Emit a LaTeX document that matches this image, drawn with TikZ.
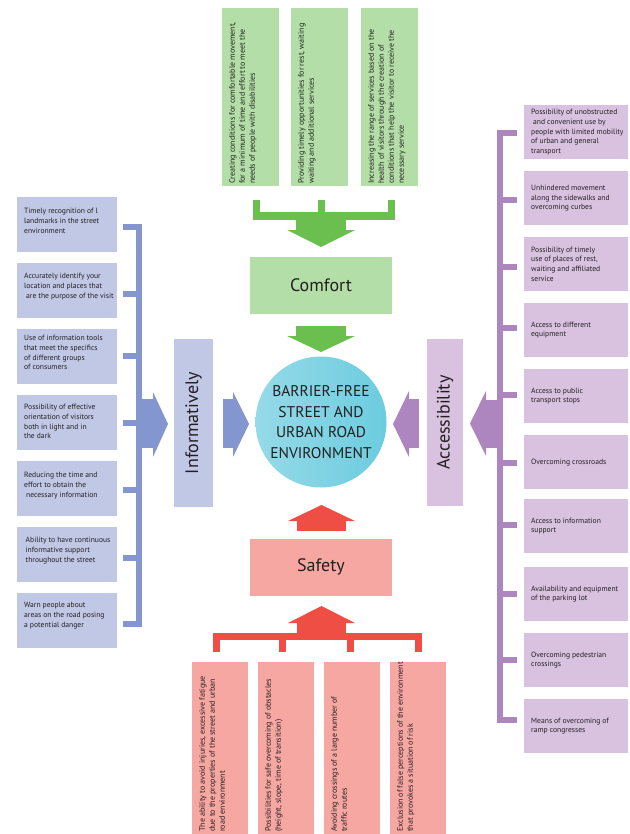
\documentclass[tikz,border=0pt]{standalone}
\usepackage{fontspec}
\setmainfont{PT Sans}
\definecolor{gbox}{HTML}{B4DEA8}
\definecolor{garr}{HTML}{6BBF4E}
\definecolor{bbox}{HTML}{C1C8E6}
\definecolor{barr}{HTML}{8496CF}
\definecolor{pbox}{HTML}{D8C2E0}
\definecolor{parr}{HTML}{AE86BF}
\definecolor{rbox}{HTML}{F6A7A2}
\definecolor{rarr}{HTML}{EF4E45}
\definecolor{txt}{HTML}{231F20}
\definecolor{circL}{HTML}{95DAE8}
\definecolor{circR}{HTML}{6CCCDF}
\newcommand{\smalltxt}{\fontsize{7.6}{9.7}\selectfont}
\newcommand{\verttxt}{\fontsize{8.0}{10}\selectfont}
\newcommand{\titletxt}{\fontsize{18}{22}\selectfont}
\begin{document}
\begin{tikzpicture}[x=1pt,y=-1pt,
  every node/.style={text=txt},
  lbox/.style={fill=bbox, anchor=north west, minimum width=100, minimum height=55, inner sep=0},
  rbox/.style={fill=pbox, anchor=north west, minimum width=104, minimum height=54, inner sep=0},
  stext/.style={anchor=west, align=left, inner sep=0, font=\smalltxt},
  tbox/.style={fill=gbox, anchor=north west, minimum width=57, minimum height=178, inner sep=0},
  bbx/.style={fill=rbox, anchor=north west, minimum width=56, minimum height=172, inner sep=0},
  vtext/.style={rotate=90, anchor=north west, align=left, inner sep=0, font=\verttxt},
  hbox/.style={minimum width=142, minimum height=57, inner sep=0, font=\titletxt},
  sidebox/.style={rotate=90, inner sep=0, font=\titletxt}
]
\fill[white] (0,0) rectangle (629,834);
\useasboundingbox (0,0) rectangle (629,834);

% ---------- top (comfort) boxes ----------
\node[tbox] (T1) at (222,8) {};
\node[tbox] (T2) at (291,8) {};
\node[tbox] (T3) at (361,8) {};
\node[vtext] (T1t) at (229,184) {Creating conditions for comfortable movement,\\for a minimum of time and effort to meet the\\needs of people with disabilities};
\node[vtext] (T2t) at (298,184) {Providing timely opportunities for rest, waiting\\waiting and additional services};
\node[vtext] (T3t) at (368,184) {Increasing the range of services based on the\\health of visitors through the creation of\\conditions that help the visitor to receive the\\necessary service};

% green bracket + arrow
\fill[garr] (252.5,200) rectangle (259.5,220);
\fill[garr] (317.5,200) rectangle (324.5,220);
\fill[garr] (388,200) rectangle (395,220);
\fill[garr] (252.5,212) rectangle (395,220);
\fill[garr] (296,219) rectangle (346,230.5);
\fill[garr] (287,230) -- (355,230) -- (321,247) -- cycle;

% comfort
\node[hbox, fill=gbox] (comfort) at (321,285) {Comfort};
\fill[garr] (296,326) rectangle (346,336.5);
\fill[garr] (287,336) -- (355,336) -- (321,352) -- cycle;

% center
\node[circle, minimum size=131, inner sep=0, left color=circL, right color=circR, align=center, font=\fontsize{15.5}{20.5}\selectfont] (core) at (321,422) {BARRIER-FREE\\STREET AND\\URBAN ROAD\\ENVIRONMENT};

% safety
\fill[rarr] (288,521) -- (355,521) -- (321.5,505) -- cycle;
\fill[rarr] (297,520.5) rectangle (346,531);
\node[hbox, fill=rbox] (safety) at (321,567) {Safety};

% red bracket + arrow
\fill[rarr] (288,623) -- (355,623) -- (321.5,606) -- cycle;
\fill[rarr] (297,622.5) rectangle (346,634);
\fill[rarr] (213,633) rectangle (422,640);
\fill[rarr] (213,633) rectangle (220,652);
\fill[rarr] (279,633) rectangle (286,652);
\fill[rarr] (347,633) rectangle (354,652);
\fill[rarr] (415,633) rectangle (422,652);

% bottom boxes
\node[bbx] (B1) at (192,662) {};
\node[bbx] (B2) at (258,662) {};
\node[bbx] (B3) at (324,662) {};
\node[bbx] (B4) at (390,662) {};
\node[vtext] (B1t) at (199,832) {The ability to avoid injuries, excessive fatigue\\due to the properties of the street and urban\\road environment};
\node[vtext] (B2t) at (265,832) {Possibilities for safe overcoming of obstacles\\(height, slope, time of transition)};
\node[vtext] (B3t) at (331,832) {Avoiding crossings of a large number of\\traffic routes};
\node[vtext] (B4t) at (397,832) {Exclusion of false perceptions of the environment\\that provokes a situation of risk};

% ---------- left (informatively) ----------
\node[lbox] (L1) at (17,197) {};
\node[lbox] (L2) at (17,263) {};
\node[lbox] (L3) at (17,329) {};
\node[lbox] (L4) at (17,395) {};
\node[lbox] (L5) at (17,461) {};
\node[lbox] (L6) at (17,527) {};
\node[lbox] (L7) at (17,593) {};
\node[stext] (L1t) at ([xshift=7pt,yshift=4pt]L1.west) {Timely recognition of l\\landmarks in the street\\environment};
\node[stext] (L2t) at ([xshift=7pt,yshift=4pt]L2.west) {Accurately identify your\\location and places that\\\hspace*{2pt}are the purpose of the visit};
\node[stext] (L3t) at ([xshift=7pt,yshift=4pt]L3.west) {Use of information tools\\that meet the specifics\\of different groups\\of consumers};
\node[stext] (L4t) at ([xshift=7pt,yshift=1pt]L4.west) {Possibility of effective\\orientation of visitors\\both in light and in\\the dark};
\node[stext] (L5t) at ([xshift=7pt,yshift=3pt]L5.west) {Reducing the time and\\effort to obtain the\\\hspace*{2pt}necessary information};
\node[stext] (L6t) at ([xshift=8.5pt,yshift=4pt]L6.west) {Ability to have continuous\\informative support\\throughout the street};
\node[stext] (L7t) at ([xshift=7pt,yshift=5pt]L7.west) {Warn people about\\areas on the road posing\\a potential danger};

\fill[barr] (136,224) rectangle (142,627);
\foreach \yy in {227,294,356,423,490,558,624}
  \fill[barr] (123,\yy-3) rectangle (142,\yy+3);
\fill[barr] (141.5,399) rectangle (153.5,448);
\fill[barr] (153,392) -- (153,457) -- (168,424) -- cycle;

\node[sidebox, fill=bbox, minimum width=168, minimum height=39] (info) at (193.5,423) {Informatively};
\fill[barr] (223,399) rectangle (233.5,448);
\fill[barr] (233,392) -- (233,457) -- (249,424) -- cycle;

% ---------- right (accessibility) ----------
\node[rbox] (R1) at (524,105) {};
\node[rbox] (R2) at (524,171) {};
\node[rbox] (R3) at (524,237) {};
\node[rbox] (R4) at (524,303) {};
\node[rbox] (R5) at (524,369) {};
\node[rbox] (R6) at (524,435) {};
\node[rbox] (R7) at (524,499) {};
\node[rbox] (R8) at (524,567) {};
\node[rbox] (R9) at (524,633) {};
\node[rbox] (R10) at (524,699) {};
\node[stext] (R1t) at ([xshift=7pt]R1.west) {Possibility of unobstructed\\\hspace*{2pt}and convenient use by\\people with limited mobility\\of urban and general\\transport};
\node[stext] (R2t) at ([xshift=7pt]R2.west) {Unhindered movement\\along the sidewalks and\\overcoming curbes};
\node[stext] (R3t) at ([xshift=7pt]R3.west) {Possibility of timely\\use of places of rest,\\waiting and affiliated\\service};
\node[stext] (R4t) at ([xshift=7pt]R4.west) {Access to different\\equipment};
\node[stext] (R5t) at ([xshift=7pt]R5.west) {Access to public\\transport stops};
\node[stext] (R6t) at ([xshift=7pt]R6.west) {Overcoming crossroads};
\node[stext] (R7t) at ([xshift=7pt]R7.west) {Access to information\\support};
\node[stext] (R8t) at ([xshift=7pt]R8.west) {Availability and equipment\\of the parking lot};
\node[stext] (R9t) at ([xshift=7pt]R9.west) {Overcoming pedestrian\\crossings};
\node[stext] (R10t) at ([xshift=7pt]R10.west) {Means of overcoming of\\ramp congresses};

\fill[parr] (497,130) rectangle (503,723);
\foreach \yy in {133,200,267,328,395,463,525,594,660,720}
  \fill[parr] (497,\yy-3) rectangle (517,\yy+3);
\fill[parr] (485.5,400) rectangle (497.5,448);
\fill[parr] (486,391) -- (486,456) -- (470,423.5) -- cycle;

\node[sidebox, fill=pbox, minimum width=167, minimum height=36] (access) at (445,422.5) {Accessibility};
\fill[parr] (408.5,399) rectangle (419,448);
\fill[parr] (409,391) -- (409,457) -- (393,424) -- cycle;
\end{tikzpicture}
\end{document}
